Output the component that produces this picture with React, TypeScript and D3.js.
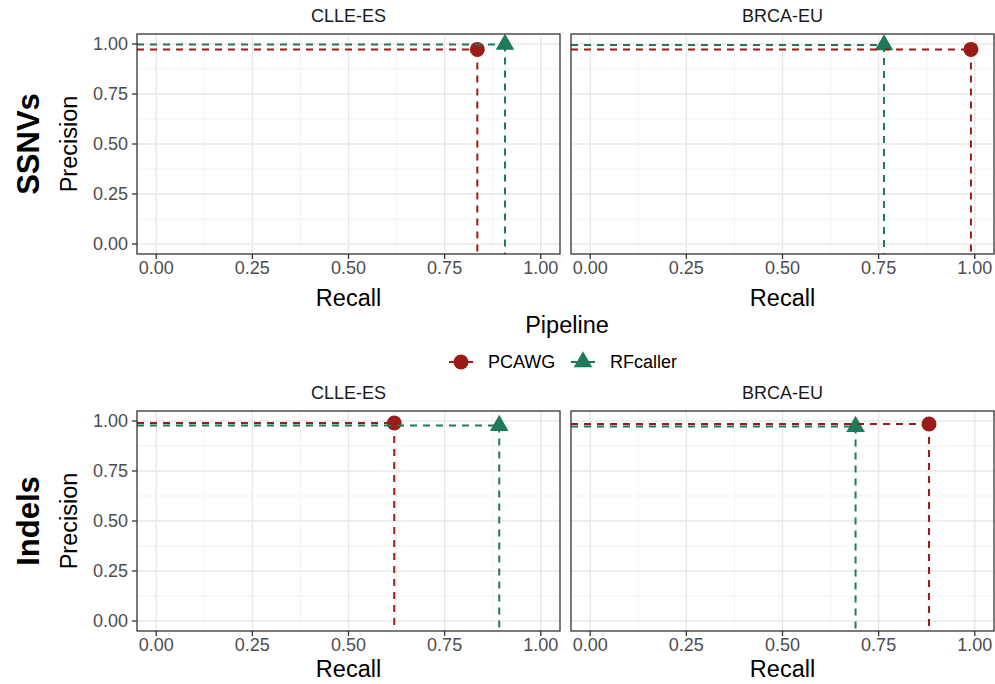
import React from 'react';
import * as d3 from 'd3';

// panels: SSNVs/CLLE-ES, SSNVs/BRCA-EU, Indels/CLLE-ES, Indels/BRCA-EU
const variantTypes = ['SSNVs', 'Indels'];
const cohorts = ['CLLE-ES', 'BRCA-EU'];
const pipelines = ['PCAWG', 'RFcaller'];
const pcawgRecall = [0.835, 0.99, 0.619, 0.881];
const pcawgPrecision = [0.973, 0.973, 0.99, 0.985];
const rfRecall = [0.907, 0.764, 0.892, 0.69];
const rfPrecision = [0.998, 0.995, 0.977, 0.972];
const ticks = [0, 0.25, 0.5, 0.75, 1];

const colors: Record<string, string> = { PCAWG: '#9b1b17', RFcaller: '#1d7a5b' };
const font = '"Liberation Sans", Arial, Helvetica, sans-serif';

const panelLeft = [137, 571];
const panelTop = [34, 411];
const panelW = 423;
const panelH = 220;
const recallY = [306, 677];

function Panel({ row, col }: { row: number; col: number }) {
  const idx = row * 2 + col;
  const x0 = panelLeft[col];
  const y0 = panelTop[row];
  const x = d3.scaleLinear().domain([-0.05, 1.05]).range([x0, x0 + panelW]);
  const y = d3.scaleLinear().domain([-0.05, 1.05]).range([y0 + panelH, y0]);
  const minor = d3.range(-0.125, 1.1, 0.25).filter(v => v > -0.05 && v < 1.05);
  const pts = [
    { p: 'PCAWG', r: pcawgRecall[idx], pr: pcawgPrecision[idx] },
    { p: 'RFcaller', r: rfRecall[idx], pr: rfPrecision[idx] },
  ];
  const tri = d3.symbol().type(d3.symbolTriangle).size(150)();
  return (
    <g>
      <text x={x0 + panelW / 2} y={y0 - 12} textAnchor="middle" fontSize={18} fill="#1a1a1a">
        {cohorts[col]}
      </text>
      <rect x={x0} y={y0} width={panelW} height={panelH} fill="white" />
      {minor.map(v => (
        <g key={'m' + v}>
          <line x1={x(v)} x2={x(v)} y1={y0} y2={y0 + panelH} stroke="#f3f3f3" strokeWidth={1} />
          <line x1={x0} x2={x0 + panelW} y1={y(v)} y2={y(v)} stroke="#f3f3f3" strokeWidth={1} />
        </g>
      ))}
      {ticks.map(v => (
        <g key={'g' + v}>
          <line x1={x(v)} x2={x(v)} y1={y0} y2={y0 + panelH} stroke="#e8e8e8" strokeWidth={1.4} />
          <line x1={x0} x2={x0 + panelW} y1={y(v)} y2={y(v)} stroke="#e8e8e8" strokeWidth={1.4} />
        </g>
      ))}
      {pts.map(d =>
        d.p === 'PCAWG' ? (
          <circle key={d.p} cx={x(d.r)} cy={y(d.pr)} r={7.5} fill={colors[d.p]} />
        ) : (
          <path key={d.p} d={tri!} transform={`translate(${x(d.r)},${y(d.pr)})`} fill={colors[d.p]} />
        )
      )}
      {pts.map(d => (
        <g key={'l' + d.p} stroke={colors[d.p]} strokeWidth={2} strokeDasharray="7,6" fill="none">
          <line x1={x(-0.05)} x2={x(d.r)} y1={y(d.pr)} y2={y(d.pr)} />
          <line x1={x(d.r)} x2={x(d.r)} y1={y(d.pr)} y2={y(-0.05)} />
        </g>
      ))}
      <rect x={x0} y={y0} width={panelW} height={panelH} fill="none" stroke="#333" strokeWidth={1.3} />
      {ticks.map(v => (
        <g key={'t' + v}>
          <line x1={x(v)} x2={x(v)} y1={y0 + panelH} y2={y0 + panelH + 5} stroke="#333" strokeWidth={1.3} />
          <text x={x(v)} y={y0 + panelH + 20} textAnchor="middle" fontSize={18} fill="#4d4d4d">
            {d3.format('.2f')(v)}
          </text>
        </g>
      ))}
      {col === 0 &&
        ticks.map(v => (
          <g key={'yt' + v}>
            <line x1={x0 - 5} x2={x0} y1={y(v)} y2={y(v)} stroke="#333" strokeWidth={1.3} />
            <text x={x0 - 9} y={y(v)} dy="0.35em" textAnchor="end" fontSize={18} fill="#4d4d4d">
              {d3.format('.2f')(v)}
            </text>
          </g>
        ))}
      <text x={x0 + panelW / 2} y={recallY[row]} textAnchor="middle" fontSize={23.5} fill="#000">
        Recall
      </text>
    </g>
  );
}

export default function App() {
  const tri = d3.symbol().type(d3.symbolTriangle).size(150)();
  return (
    <svg width={995} height={684} style={{ position: 'absolute', left: 0, top: 0, fontFamily: font }}>
      <rect width={995} height={684} fill="white" />
      {variantTypes.map((vt, row) => {
        const cy = panelTop[row] + panelH / 2;
        return (
          <g key={vt}>
            <text transform={`translate(39,${cy}) rotate(-90)`} textAnchor="middle" fontSize={31} fontWeight="bold">
              {vt}
            </text>
            <text transform={`translate(77,${cy}) rotate(-90)`} textAnchor="middle" fontSize={23.5}>
              Precision
            </text>
            {cohorts.map((c, col) => (
              <Panel key={c} row={row} col={col} />
            ))}
          </g>
        );
      })}
      <text x={567} y={333} textAnchor="middle" fontSize={23.5}>
        Pipeline
      </text>
      {pipelines.map((p, i) => {
        const cx = i === 0 ? 461 : 583;
        return (
          <g key={p}>
            <line x1={cx - 12} x2={cx + 12} y1={362} y2={362} stroke={colors[p]} strokeWidth={2} />
            {i === 0 ? (
              <circle cx={cx} cy={362} r={7.5} fill={colors[p]} />
            ) : (
              <path d={tri!} transform={`translate(${cx},${362})`} fill={colors[p]} />
            )}
            <text x={cx + 27} y={362} dy="0.35em" fontSize={18}>
              {p}
            </text>
          </g>
        );
      })}
    </svg>
  );
}
